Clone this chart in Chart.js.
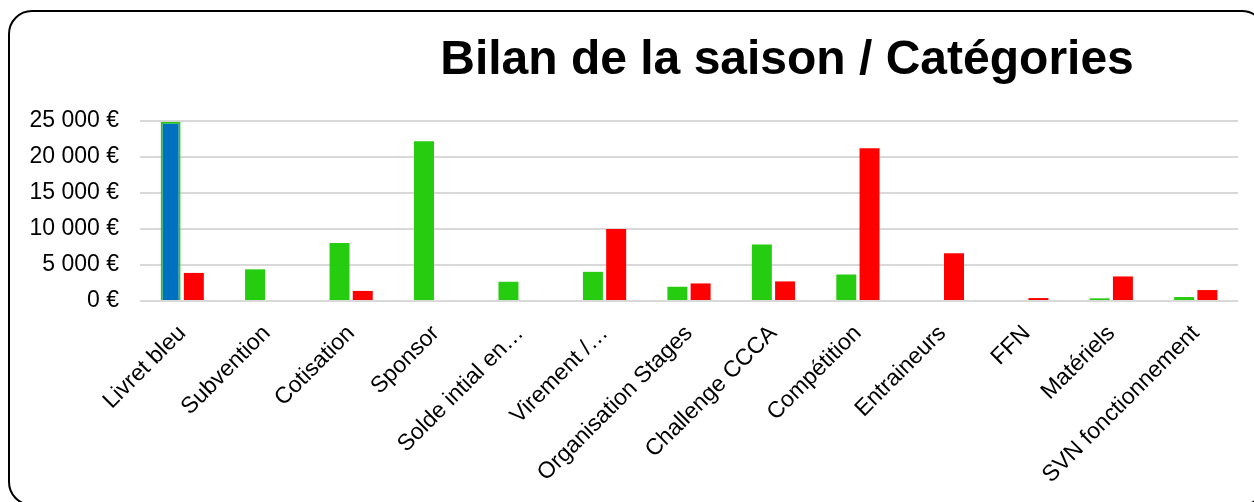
<!DOCTYPE html>
<html>
<head>
<meta charset="utf-8">
<script src="https://cdn.jsdelivr.net/npm/chart.js@4"></script>
<style>
    html, body { margin: 0; padding: 0; background: #fff; overflow: hidden; }
    #wrap { position: relative; width: 1254px; height: 502px; }
    #frame {
        position: absolute; left: 8px; top: 10px; width: 1258px; height: 496px;
        border: 2px solid #000; border-radius: 24px; box-sizing: border-box;
    }
    #chartBox { position: absolute; left: 0; top: 0; width: 1254px; height: 502px; }
</style>
</head>
<body>
<div id="wrap">
    <div id="frame"></div>
    <div id="chartBox"><canvas id="myChart"></canvas></div>
</div>
<script>
const titleText = 'Bilan de la saison / Catégories';

const categories = ['Livret bleu', 'Subvention', 'Cotisation', 'Sponsor', 'Solde intial en…', 'Virement /…',
    'Organisation Stages', 'Challenge CCCA', 'Compétition', 'Entraineurs', 'FFN', 'Matériels', 'SVN fonctionnement'];
const recettes = [24900, 4400, 8050, 22200, 2670, 4050, 1980, 7830, 3680, 0, 0, 370, 550];
const depenses = [3900, 0, 1400, 0, 0, 10000, 2440, 2720, 21200, 6630, 410, 3410, 1520];
const yTicks = [0, 5000, 10000, 15000, 20000, 25000];

const green = '#26cc0f';
const red = '#ff0000';
const blue = '#0070c0';

// la premiere barre (Livret bleu) est bleue avec un bord vert
const greenColors = categories.map((c, i) => i === 0 ? blue : green);
const greenBorders = categories.map((c, i) => i === 0 ? 2 : 0);

function euro(v) {
    return String(v).replace(/\B(?=(\d{3})+(?!\d))/g, ' ') + ' €';
}

const titlePlugin = {
    id: 'bigTitle',
    afterDraw(chart) {
        const c = chart.ctx;
        c.save();
        c.font = 'bold 48px "Liberation Sans", Arial, sans-serif';
        c.fillStyle = '#000';
        c.textAlign = 'center';
        c.textBaseline = 'alphabetic';
        c.fillText(titleText, 787, 74);
        c.restore();
    }
};

const ctx = document.getElementById('myChart').getContext('2d');
const myChart = new Chart(ctx, {
    type: 'bar',
    data: {
        labels: categories,
        datasets: [{
            label: 'Recettes',
            data: recettes,
            backgroundColor: greenColors,
            borderColor: green,
            borderWidth: greenBorders
        }, {
            label: 'Dépenses',
            data: depenses,
            backgroundColor: red
        }]
    },
    options: {
        responsive: true,
        maintainAspectRatio: false,
        animation: false,
        categoryPercentage: 0.55,
        barPercentage: 0.86,
        layout: { padding: { top: 121, right: 16, left: 0, bottom: 0 } },
        plugins: {
            legend: { display: false },
            title: { display: false },
            tooltip: { enabled: false }
        },
        scales: {
            x: {
                grid: { display: false, drawTicks: false },
                border: { display: false },
                ticks: {
                    autoSkip: false,
                    minRotation: 45,
                    maxRotation: 45,
                    padding: 19,
                    color: '#000',
                    font: { family: '"Liberation Sans", Arial, sans-serif', size: 23 }
                },
                afterFit(scale) { scale.height = 201; }
            },
            y: {
                min: 0,
                max: 25000,
                afterBuildTicks(scale) { scale.ticks = yTicks.map(v => ({ value: v })); },
                grid: { color: '#d9d9d9', lineWidth: 2, drawTicks: false },
                border: { display: false },
                ticks: {
                    padding: 21,
                    color: '#000',
                    font: { family: '"Liberation Sans", Arial, sans-serif', size: 23 },
                    callback: (v) => euro(v)
                },
                afterFit(scale) { scale.width = 140; }
            }
        }
    },
    plugins: [titlePlugin]
});
</script>
</body>
</html>
